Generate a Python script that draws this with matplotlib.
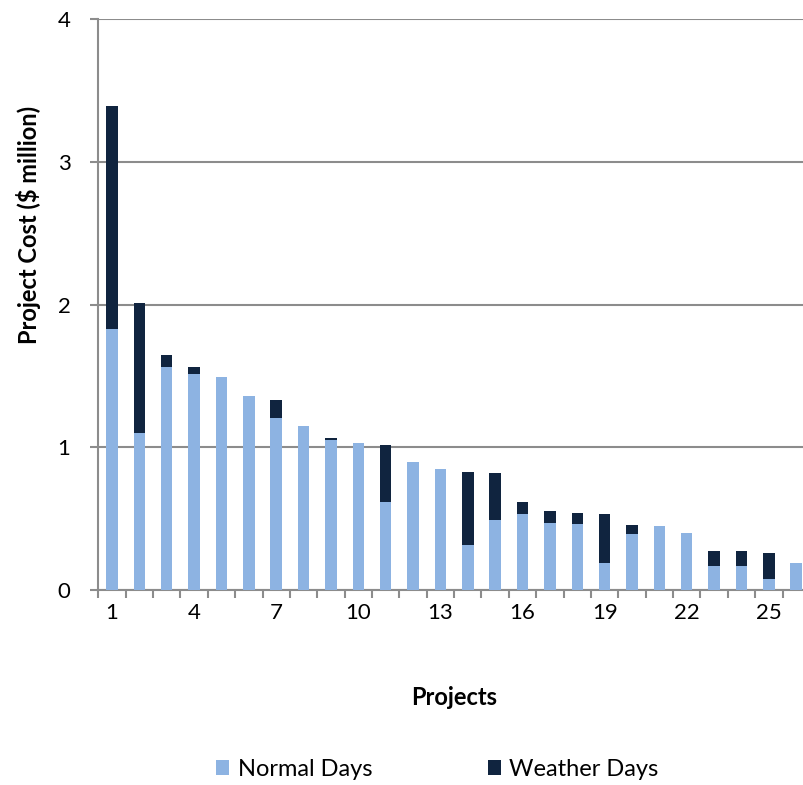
import matplotlib
matplotlib.use("Agg")
import matplotlib.pyplot as plt
import numpy as np

# project cost split, $ million
projects = list(range(1, 27))
total_cost = [3.39, 2.01, 1.65, 1.56, 1.49, 1.36, 1.33, 1.15, 1.065, 1.03,
              1.015, 0.90, 0.85, 0.825, 0.82, 0.617, 0.551, 0.537, 0.533, 0.453,
              0.446, 0.402, 0.271, 0.271, 0.261, 0.191]
normal_days = [1.83, 1.10, 1.56, 1.515, 1.49, 1.36, 1.205, 1.15, 1.05, 1.03,
               0.62, 0.90, 0.85, 0.315, 0.493, 0.533, 0.467, 0.465, 0.189, 0.392,
               0.446, 0.402, 0.168, 0.168, 0.079, 0.191]
weather_days = [t - n for t, n in zip(total_cost, normal_days)]
x_ticklabels = ["1", "4", "7", "10", "13", "16", "19", "22", "25"]

light_blue = "#8DB3E2"
navy = "#10243F"
grid_grey = "#8C8C8C"

plt.rcParams["font.family"] = ["Lato", "DejaVu Sans"]

fig = plt.figure(figsize=(8.04, 7.85), dpi=100)
ax = fig.add_axes([0.1223, 0.2484, 0.885, 0.7271])

x = np.arange(len(projects))
ax.bar(x, normal_days, width=0.42, color=light_blue, label="Normal Days", zorder=3)
ax.bar(x, weather_days, width=0.42, bottom=normal_days, color=navy,
       label="Weather Days", zorder=3)

ax.set_xlim(-0.5, len(projects) - 0.5)
ax.set_ylim(0, 4)
ax.set_yticks([0, 1, 2, 3, 4])
ax.yaxis.grid(True, color=grid_grey, linewidth=1.5, zorder=0)

# labels every third project, tick marks on category boundaries
ax.set_xticks(x[::3])
ax.set_xticklabels(x_ticklabels)
ax.set_xticks(np.arange(-0.5, len(projects), 1), minor=True)
ax.tick_params(axis="x", which="major", length=0, pad=9, labelsize=16)
ax.tick_params(axis="x", which="minor", length=6, width=1.5, color=grid_grey)
ax.tick_params(axis="y", length=6, width=1.5, color=grid_grey, pad=14, labelsize=16)

for side in ["top", "right"]:
    ax.spines[side].set_visible(False)
for side in ["left", "bottom"]:
    ax.spines[side].set_color(grid_grey)
    ax.spines[side].set_linewidth(1.5)

ax.set_ylabel("Project Cost ($ million)", fontsize=17, fontweight="bold")
ax.yaxis.set_label_coords(-0.08, 0.64)
ax.set_xlabel("Projects", fontsize=17, fontweight="bold", labelpad=46)

fig.legend(loc="center", bbox_to_anchor=(0.544, 0.02), ncol=2, frameon=False,
           fontsize=17, handlelength=0.55, handleheight=0.55, handletextpad=0.35,
           columnspacing=4.9)

fig.savefig("out.png", dpi=100)
